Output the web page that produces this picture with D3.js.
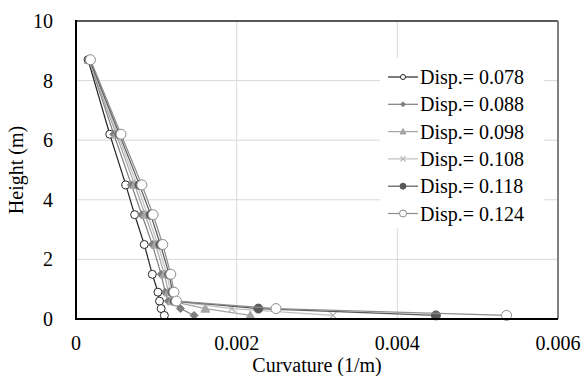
<!DOCTYPE html>
<html>
<head>
<meta charset="utf-8">
<script src="https://cdn.jsdelivr.net/npm/d3@7"></script>
</head>
<body style="margin:0">
<script>
var heights = [8.7, 6.2, 4.5, 3.5, 2.5, 1.5, 0.9, 0.6, 0.35, 0.12];
var disp078 = [0.00015, 0.00042, 0.00062, 0.00073, 0.00085, 0.00095, 0.00102, 0.00104, 0.00106, 0.00110];
var disp088 = [0.00016, 0.00047, 0.00069, 0.00082, 0.00095, 0.00106, 0.00111, 0.00115, 0.00130, 0.00147];
var disp098 = [0.00016, 0.00050, 0.00073, 0.00086, 0.00099, 0.00110, 0.00115, 0.00119, 0.00161, 0.00217];
var disp108 = [0.00017, 0.00052, 0.00076, 0.00089, 0.00102, 0.00113, 0.00118, 0.00121, 0.00194, 0.00320];
var disp118 = [0.00017, 0.00054, 0.00079, 0.00093, 0.00105, 0.00116, 0.00120, 0.00123, 0.00227, 0.00448];
var disp124 = [0.00018, 0.00056, 0.00082, 0.00096, 0.00108, 0.00118, 0.00122, 0.00125, 0.00249, 0.00536];
var seriesNames = ["Disp.= 0.078", "Disp.= 0.088", "Disp.= 0.098", "Disp.= 0.108", "Disp.= 0.118", "Disp.= 0.124"];
var xTicks = [0, 0.002, 0.004, 0.006];
var yTicks = [0, 2, 4, 6, 8, 10];

var allSeries = [disp078, disp088, disp098, disp108, disp118, disp124];
// line colour, marker kind, marker fill, marker stroke
var styles = [
  {line: "#262626", mark: "circle", fill: "#fff", stroke: "#262626", r: 4},
  {line: "#7f7f7f", mark: "diamond", fill: "#7f7f7f", stroke: "#7f7f7f", r: 4},
  {line: "#a5a5a5", mark: "triangle", fill: "#a5a5a5", stroke: "#a5a5a5", r: 4.5},
  {line: "#c0c0c0", mark: "cross", fill: "none", stroke: "#b0b0b0", r: 3.5},
  {line: "#595959", mark: "circle", fill: "#595959", stroke: "#595959", r: 4.5},
  {line: "#8c8c8c", mark: "circle", fill: "#fff", stroke: "#8c8c8c", r: 5}
];

var w = 583, h = 376;
var pLeft = 76, pRight = 558, pTop = 21, pBottom = 319;

var svg = d3.select("body").append("svg")
    .attr("width", w)
    .attr("height", h);

var x = d3.scaleLinear().domain([0, 0.006]).range([pLeft, pRight]);
var y = d3.scaleLinear().domain([0, 10]).range([pBottom, pTop]);

function label(sel) {
  return sel.attr("font-family", "Liberation Serif")
    .style("font-family", "'Liberation Serif'")
    .attr("font-size", "20px")
    .attr("fill", "#000");
}

// gridlines
svg.selectAll("line.gx")
   .data(xTicks.slice(1, -1))
   .enter().append("line")
   .attr("x1", function(d) { return x(d); })
   .attr("x2", function(d) { return x(d); })
   .attr("y1", pTop).attr("y2", pBottom)
   .attr("stroke", "#d9d9d9").attr("stroke-width", 1);
svg.selectAll("line.gy")
   .data(yTicks.slice(1, -1))
   .enter().append("line")
   .attr("x1", pLeft).attr("x2", pRight)
   .attr("y1", function(d) { return y(d); })
   .attr("y2", function(d) { return y(d); })
   .attr("stroke", "#d9d9d9").attr("stroke-width", 1);

// frame
svg.append("line").attr("x1", pLeft).attr("x2", pRight).attr("y1", pTop).attr("y2", pTop)
   .attr("stroke", "#222").attr("stroke-width", 1.5);
svg.append("line").attr("x1", pRight).attr("x2", pRight).attr("y1", pTop).attr("y2", pBottom)
   .attr("stroke", "#808080").attr("stroke-width", 2);

// tick labels
svg.selectAll("text.xt")
   .data(xTicks)
   .enter().append("text")
   .attr("x", function(d) { return x(d); })
   .attr("y", 350)
   .attr("text-anchor", "middle")
   .call(label)
   .text(function(d) { return d === 0 ? "0" : d3.format(".3f")(d); });
svg.selectAll("text.yt")
   .data(yTicks)
   .enter().append("text")
   .attr("x", 53)
   .attr("y", function(d) { return y(d) + 7; })
   .attr("text-anchor", "end")
   .call(label)
   .text(function(d) { return d; });

svg.append("text")
   .attr("x", (pLeft + pRight) / 2)
   .attr("y", 372)
   .attr("text-anchor", "middle")
   .call(label)
   .text("Curvature (1/m)");
svg.append("text")
   .attr("transform", "translate(23," + ((pTop + pBottom) / 2) + ") rotate(-90)")
   .attr("text-anchor", "middle")
   .call(label)
   .text("Height (m)");

function drawMarker(g, st, cx, cy) {
  if (st.mark === "circle") {
    g.append("circle").attr("cx", cx).attr("cy", cy).attr("r", st.r)
     .attr("fill", st.fill).attr("stroke", st.stroke).attr("stroke-width", 1);
  } else if (st.mark === "diamond") {
    var s = st.r;
    g.append("path")
     .attr("d", "M" + cx + "," + (cy - s) + "L" + (cx + s) + "," + cy + "L" + cx + "," + (cy + s) + "L" + (cx - s) + "," + cy + "Z")
     .attr("fill", st.fill).attr("stroke", st.stroke);
  } else if (st.mark === "triangle") {
    var t = st.r;
    g.append("path")
     .attr("d", "M" + cx + "," + (cy - t) + "L" + (cx + t) + "," + (cy + t * 0.8) + "L" + (cx - t) + "," + (cy + t * 0.8) + "Z")
     .attr("fill", st.fill).attr("stroke", st.stroke);
  } else if (st.mark === "cross") {
    var c = st.r;
    g.append("path")
     .attr("d", "M" + (cx - c) + "," + (cy - c) + "L" + (cx + c) + "," + (cy + c) + "M" + (cx - c) + "," + (cy + c) + "L" + (cx + c) + "," + (cy - c))
     .attr("fill", "none").attr("stroke", st.stroke).attr("stroke-width", 1.2);
  }
}

var line = d3.line()
    .x(function(d) { return x(d[0]); })
    .y(function(d) { return y(d[1]); });

allSeries.forEach(function(vals, i) {
  var pts = vals.map(function(v, j) { return [v, heights[j]]; });
  var g = svg.append("g");
  g.append("path")
   .attr("d", line(pts))
   .attr("fill", "none")
   .attr("stroke", styles[i].line)
   .attr("stroke-width", 1.2);
  pts.forEach(function(p) { drawMarker(g, styles[i], x(p[0]), y(p[1])); });
});

// axes on top
svg.append("line").attr("x1", pLeft).attr("x2", pLeft).attr("y1", pTop - 1).attr("y2", pBottom + 1)
   .attr("stroke", "#000").attr("stroke-width", 2);
svg.append("line").attr("x1", pLeft - 1).attr("x2", pRight).attr("y1", pBottom).attr("y2", pBottom)
   .attr("stroke", "#000").attr("stroke-width", 2);

// legend
var lg = svg.append("g");
lg.append("rect").attr("x", 380).attr("y", 58).attr("width", 164).attr("height", 170).attr("fill", "#fff");
seriesNames.forEach(function(name, i) {
  var ly = 77 + i * 27.3;
  lg.append("line").attr("x1", 388).attr("x2", 418).attr("y1", ly).attr("y2", ly)
    .attr("stroke", styles[i].line).attr("stroke-width", 1.2);
  var st = Object.assign({}, styles[i], {r: Math.max(2.5, styles[i].r - 1.5)});
  drawMarker(lg, st, 403, ly);
  lg.append("text").attr("x", 420).attr("y", ly + 7)
    .call(label)
    .text(name);
});
</script>
</body>
</html>
